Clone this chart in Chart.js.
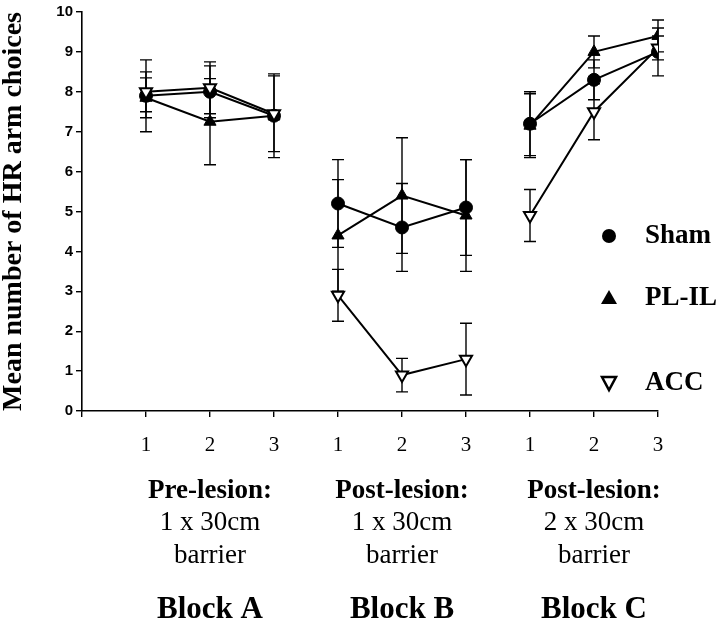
<!DOCTYPE html>
<html lang="en">
<head>
    <meta charset="UTF-8">
    <title>Mean number of HR arm choices</title>
    <script src="https://cdn.jsdelivr.net/npm/chart.js"></script>
    <style>
        body { margin: 0; background: #fff; }
        #wrap { width: 720px; height: 625px; }
    </style>
</head>
<body>
<div id="wrap"><canvas id="hrChart" width="720" height="625"></canvas></div>

<script>
    // Sessions 1-9 on a linear axis (0 is only the axis start)
    const sessions = [1, 2, 3, 4, 5, 6, 7, 8, 9];
    const xTickLabels = ['', '1', '2', '3', '1', '2', '3', '1', '2', '3'];
    const yTicks = [0, 1, 2, 3, 4, 5, 6, 7, 8, 9, 10];

    const blockTitles = ['Pre-lesion:', 'Post-lesion:', 'Post-lesion:'];
    const blockBarrier = ['1 x 30cm', '1 x 30cm', '2 x 30cm'];
    const blockWord = ['barrier', 'barrier', 'barrier'];
    const blockNames = ['Block A', 'Block B', 'Block C'];
    const blockCentres = [2, 5, 8];

    const seriesNames = ['Sham', 'PL-IL', 'ACC'];
    const shamMeans = [7.9, 8.0, 7.4, 5.2, 4.6, 5.1, 7.2, 8.3, 9.0];
    const shamErr   = [0.9, 0.65, 1.05, 1.1, 1.1, 1.2, 0.8, 0.5, 0.6];
    const plilMeans = [7.85, 7.25, 7.4, 4.4, 5.4, 4.9, 7.15, 9.0, 9.4];
    const plilErr   = [0.5, 1.08, 0.1, 1.4, 1.45, 1.4, 0.8, 0.4, 0.4];
    const accMeans  = [8.0, 8.1, 7.45, 2.9, 0.9, 1.3, 4.9, 7.5, 9.1];
    const accErr    = [0.5, 0.65, 0.95, 0.65, 0.42, 0.9, 0.65, 0.7, 0.3];

    // build points, with a null between blocks so lines break
    function toPoints(means, errs) {
        const pts = [];
        means.forEach((m, i) => {
            pts.push({ x: sessions[i], y: m, err: errs[i] });
            if (i === 2 || i === 5) pts.push({ x: sessions[i] + 0.5, y: null });
        });
        return pts;
    }

    const serif = '"Liberation Serif", "Times New Roman", serif';
    const sans = '"Liberation Sans", Arial, sans-serif';

    const errorBars = {
        id: 'errorBars',
        beforeDatasetsDraw(chart) {
            const { ctx, scales: { x, y } } = chart;
            ctx.save();
            ctx.strokeStyle = '#000';
            ctx.lineWidth = 1.4;
            chart.data.datasets.forEach(ds => {
                ds.data.forEach(p => {
                    if (p.y === null || !p.err) return;
                    const px = x.getPixelForValue(p.x);
                    const top = y.getPixelForValue(p.y + p.err);
                    const bot = y.getPixelForValue(p.y - p.err);
                    ctx.beginPath();
                    ctx.moveTo(px, top); ctx.lineTo(px, bot);
                    ctx.moveTo(px - 6, top); ctx.lineTo(px + 6, top);
                    ctx.moveTo(px - 6, bot); ctx.lineTo(px + 6, bot);
                    ctx.stroke();
                });
            });
            ctx.restore();
        }
    };

    function marker(ctx, kind, cx, cy) {
        ctx.beginPath();
        if (kind === 0) {
            ctx.arc(cx, cy, 7, 0, Math.PI * 2);
            ctx.fillStyle = '#000'; ctx.fill();
        } else if (kind === 1) {
            ctx.moveTo(cx, cy - 8); ctx.lineTo(cx + 8, cy + 6); ctx.lineTo(cx - 8, cy + 6); ctx.closePath();
            ctx.fillStyle = '#000'; ctx.fill();
        } else {
            ctx.moveTo(cx - 7, cy - 6); ctx.lineTo(cx + 7, cy - 6); ctx.lineTo(cx, cy + 7); ctx.closePath();
            ctx.fillStyle = '#fff'; ctx.fill();
            ctx.lineWidth = 2.5; ctx.strokeStyle = '#000'; ctx.stroke();
        }
    }

    const extraText = {
        id: 'extraText',
        afterDraw(chart) {
            const { ctx, scales: { x, y } } = chart;
            ctx.save();
            ctx.fillStyle = '#000';

            // y axis title
            ctx.save();
            ctx.translate(14, (y.top + y.bottom) / 2);
            ctx.rotate(-Math.PI / 2);
            ctx.font = 'bold 28px ' + serif;
            ctx.textAlign = 'center';
            ctx.textBaseline = 'middle';
            ctx.fillText('Mean number of HR arm choices', 0, 0);
            ctx.restore();

            // block captions
            ctx.textAlign = 'center';
            ctx.textBaseline = 'middle';
            blockCentres.forEach((c, i) => {
                const cx = x.getPixelForValue(c);
                ctx.font = 'bold 27px ' + serif;
                ctx.fillText(blockTitles[i], cx, 491);
                ctx.font = '27px ' + serif;
                ctx.fillText(blockBarrier[i], cx, 523);
                ctx.fillText(blockWord[i], cx, 556);
                ctx.font = 'bold 31px ' + serif;
                ctx.fillText(blockNames[i], cx, 610);
            });

            // legend
            const legendY = [236, 298, 383];
            ctx.textAlign = 'left';
            ctx.font = 'bold 27px ' + serif;
            seriesNames.forEach((n, i) => {
                marker(ctx, i, 609, legendY[i]);
                ctx.fillStyle = '#000';
                ctx.fillText(n, 645, legendY[i]);
            });
            ctx.restore();
        }
    };

    const lineDs = (label, means, errs, style) => Object.assign({
        label: label,
        data: toPoints(means, errs),
        borderColor: '#000',
        borderWidth: 2,
        pointBorderColor: '#000',
        spanGaps: false
    }, style);

    new Chart(document.getElementById('hrChart'), {
        type: 'line',
        data: {
            datasets: [
                lineDs('ACC', accMeans, accErr, {
                    pointStyle: 'triangle', pointRotation: 180, pointRadius: 7,
                    pointBackgroundColor: '#fff', pointBorderWidth: 2
                }),
                lineDs('PL-IL', plilMeans, plilErr, {
                    pointStyle: 'triangle', pointRadius: 7,
                    pointBackgroundColor: '#000', pointBorderWidth: 1
                }),
                lineDs('Sham', shamMeans, shamErr, {
                    pointStyle: 'circle', pointRadius: 6.5,
                    pointBackgroundColor: '#000', pointBorderWidth: 1
                })
            ]
        },
        options: {
            responsive: false,
            animation: false,
            layout: { padding: { top: 7, right: 62, left: 0, bottom: 0 } },
            plugins: { legend: { display: false }, tooltip: { enabled: false } },
            scales: {
                x: {
                    type: 'linear', min: 0, max: 9,
                    afterBuildTicks: s => { s.ticks = [0].concat(sessions).map(v => ({ value: v })); },
                    afterFit: s => { s.height = 214; },
                    ticks: {
                        callback: v => xTickLabels[v],
                        font: { family: serif, size: 21 }, color: '#000', padding: 16,
                        maxRotation: 0, autoSkip: false
                    },
                    grid: { drawOnChartArea: false, drawTicks: true, tickLength: 6, color: '#000', lineWidth: 1.4 },
                    border: { color: '#000', width: 1.6 }
                },
                y: {
                    min: 0, max: 10,
                    afterBuildTicks: s => { s.ticks = yTicks.map(v => ({ value: v })); },
                    afterFit: s => { s.width = 82; },
                    ticks: {
                        font: { family: sans, size: 15, weight: 'bold' }, color: '#000', padding: 3
                    },
                    grid: { drawOnChartArea: false, drawTicks: true, tickLength: 6, color: '#000', lineWidth: 1.4 },
                    border: { color: '#000', width: 1.6 }
                }
            }
        },
        plugins: [errorBars, extraText]
    });
</script>
</body>
</html>
